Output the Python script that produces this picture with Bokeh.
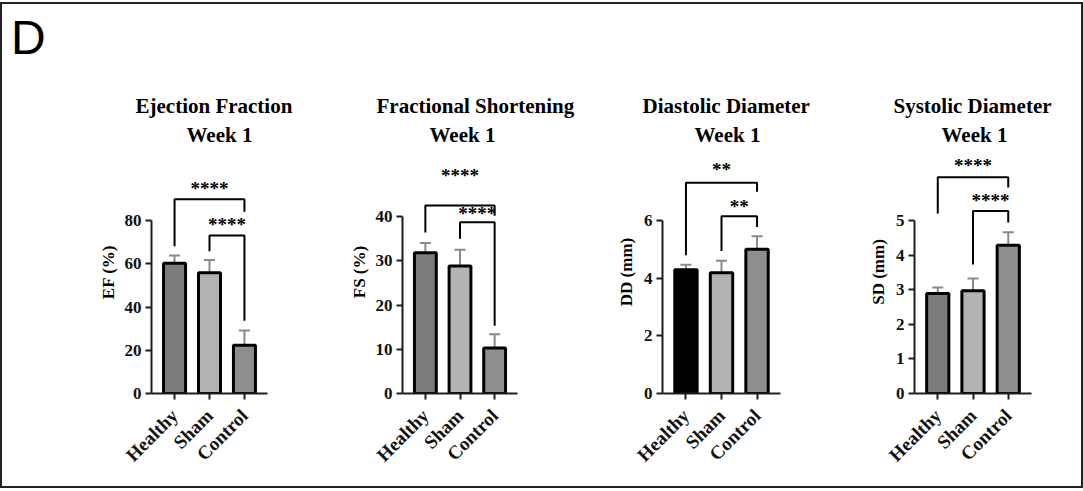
import math
from bokeh.plotting import figure
from bokeh.models import (ColumnDataSource, FactorRange, Range1d, FixedTicker,
                          Title, Whisker, TeeHead, Row, Column, Div)
from bokeh.core.properties import value
from bokeh.embed import file_html
from bokeh.resources import INLINE

groups = ["Healthy", "Sham", "Control"]

panel_letter = "D"

# Panel 1: Ejection Fraction
ef_title = "Ejection Fraction"
ef_sub = "Week 1"
ef_mean = [60.3, 55.9, 22.3]
ef_err = [3.5, 5.8, 6.8]
ef_ticks = [0, 20, 40, 60, 80]
ef_ylabel = "EF (%)"
ef_colors = ["#7c7c7c", "#b3b3b3", "#8e8e8e"]
# significance: (left group, right group, bracket top, left leg end, right leg end, stars, stars y)
ef_sig = [("Healthy", "Control", 89.8, 68.1, 84.1, "****", 94.9),
          ("Sham", "Control", 73.1, 65.8, 33.6, "****", 78.3)]

# Panel 2: Fractional Shortening
fs_title = "Fractional Shortening"
fs_sub = "Week 1"
fs_mean = [31.8, 28.8, 10.3]
fs_err = [2.2, 3.7, 3.1]
fs_ticks = [0, 10, 20, 30, 40]
fs_ylabel = "FS (%)"
fs_colors = ["#7c7c7c", "#b3b3b3", "#8e8e8e"]
fs_sig = [("Healthy", "Control", 42.5, 36.4, 40.2, "****", 49.3),
          ("Sham", "Control", 38.7, 35.0, 15.3, "****", 40.7)]

# Panel 3: Diastolic Diameter
dd_title = "Diastolic Diameter"
dd_sub = "Week 1"
dd_mean = [4.29, 4.18, 5.00]
dd_err = [0.17, 0.42, 0.45]
dd_ticks = [0, 2, 4, 6]
dd_ylabel = "DD (mm)"
dd_colors = ["#000000", "#b3b3b3", "#8e8e8e"]
dd_sig = [("Healthy", "Control", 7.30, 4.79, 6.99, "**", 7.76),
          ("Sham", "Control", 6.14, 4.94, 5.77, "**", 6.48)]

# Panel 4: Systolic Diameter
sd_title = "Systolic Diameter"
sd_sub = "Week 1"
sd_mean = [2.89, 2.97, 4.28]
sd_err = [0.17, 0.35, 0.38]
sd_ticks = [0, 1, 2, 3, 4, 5]
sd_ylabel = "SD (mm)"
sd_colors = ["#7c7c7c", "#b3b3b3", "#8e8e8e"]
sd_sig = [("Healthy", "Control", 6.25, 5.20, 5.95, "****", 6.58),
          ("Sham", "Control", 5.27, 3.73, 4.94, "****", 5.58)]

SERIF = "Liberation Serif"
AXIS_COLOR = "#1e1e1e"
ERR_COLOR = "#8a8a8a"

panels = [
    dict(title=ef_title, sub=ef_sub, mean=ef_mean, err=ef_err, ticks=ef_ticks, ylabel=ef_ylabel,
         colors=ef_colors, sig=ef_sig, width=330, bl=149, br=65, bb=91, ymax=112.4,
         toff=-16, soff=35, lstand=4),
    dict(title=fs_title, sub=fs_sub, mean=fs_mean, err=fs_err, ticks=fs_ticks, ylabel=fs_ylabel,
         colors=fs_colors, sig=fs_sig, width=260, bl=70, br=75, bb=93, ymax=54.94,
         toff=-26, soff=27, lstand=4),
    dict(title=dd_title, sub=dd_sub, mean=dd_mean, err=dd_err, ticks=dd_ticks, ylabel=dd_ylabel,
         colors=dd_colors, sig=dd_sig, width=258, bl=70, br=70, bb=90, ymax=8.42,
         toff=-20, soff=32, lstand=5),
    dict(title=sd_title, sub=sd_sub, mean=sd_mean, err=sd_err, ticks=sd_ticks, ylabel=sd_ylabel,
         colors=sd_colors, sig=sd_sig, width=231, bl=64, br=50, bb=90, ymax=7.02,
         toff=-21, soff=27, lstand=5),
]

HEAD = 60
H = 482 - HEAD
TOP = 146 - HEAD


def pos(factor):
    # synthetic coordinate of a factor on the categorical range
    return groups.index(factor) + 0.5


figs = []
for i, pc in enumerate(panels):
    p = figure(width=pc["width"], height=H, output_backend="svg", toolbar_location=None,
               x_range=FactorRange(factors=groups, range_padding=0.16, range_padding_units="absolute"),
               y_range=Range1d(0, pc["ymax"]), title=None,
               min_border_left=pc["bl"], min_border_right=pc["br"],
               min_border_top=TOP, min_border_bottom=pc["bb"])
    p.outline_line_color = None
    p.background_fill_color = "white"
    p.border_fill_color = "white"
    p.xgrid.visible = False
    p.ygrid.visible = False

    p.add_layout(Title(text=pc["sub"], align="left", text_font=SERIF, text_font_style="bold",
                       text_font_size="21px", text_color="black", standoff=7, offset=pc["soff"]), "above")
    p.add_layout(Title(text=pc["title"], align="left", text_font=SERIF, text_font_style="bold",
                       text_font_size="21px", text_color="black", standoff=0, offset=pc["toff"]), "above")

    upper = [m + e for m, e in zip(pc["mean"], pc["err"])]
    src = ColumnDataSource(dict(x=groups, top=pc["mean"], upper=upper, color=pc["colors"]))

    w = Whisker(base="x", lower="top", upper="upper", source=src, line_color=ERR_COLOR, line_width=2,
                upper_head=TeeHead(size=11, line_color=ERR_COLOR, line_width=2), lower_head=None,
                level="underlay")
    p.add_layout(w)
    p.vbar(x="x", top="top", bottom=0, width=0.63, source=src, fill_color="color",
           line_color="black", line_width=3)

    xs, ys, tx, ty, tt = [], [], [], [], []
    for a, b, top, la, lb, stars, sy in pc["sig"]:
        ia = pos(a)
        ib = pos(b)
        xs.append([ia, ia, ib, ib])
        ys.append([la, top, top, lb])
        tx.append((ia + ib) / 2)
        ty.append(sy)
        tt.append(stars)
    p.multi_line(xs=xs, ys=ys, line_color="black", line_width=2)
    p.text(x=tx, y=ty, text=tt, text_font=value(SERIF), text_font_style="bold",
           text_font_size="19px", text_align="center", text_baseline="middle", text_color="black")

    ya = p.yaxis[0]
    ya.bounds = (0, pc["ticks"][-1])
    ya.ticker = FixedTicker(ticks=pc["ticks"])
    ya.axis_label = pc["ylabel"]
    ya.axis_label_text_font = SERIF
    ya.axis_label_text_font_style = "bold"
    ya.axis_label_text_font_size = "17px"
    ya.axis_label_text_color = "black"
    ya.axis_label_standoff = pc["lstand"]
    xa = p.xaxis[0]
    for ax in (ya, xa):
        ax.axis_line_color = AXIS_COLOR
        ax.axis_line_width = 2
        ax.major_tick_line_color = AXIS_COLOR
        ax.major_tick_line_width = 2
        ax.major_tick_out = 6
        ax.major_tick_in = 0
        ax.minor_tick_line_color = None
        ax.major_label_text_font = SERIF
        ax.major_label_text_font_style = "bold"
        ax.major_label_text_color = "#111111"
    ya.major_label_text_font_size = "17px"
    ya.major_label_standoff = 4
    xa.major_label_text_font_size = "19px"
    xa.major_label_orientation = math.pi / 4
    xa.major_label_standoff = 13
    figs.append(p)

letter = Div(text=('<div style="font-family: \'Liberation Sans\'; font-size: 48px; line-height: 1.1; '
                   'color: black; margin: 0; padding: 8px 0 0 9px;">'
                   + panel_letter + '</div>'),
             width=sum(pc["width"] for pc in panels), height=HEAD,
             styles={"margin": "0", "padding": "0"})

layout = Column(children=[letter, Row(children=figs)],
                styles={"border": "2px solid #222", "margin-top": "2px", "background": "white"})

open("out.html", "w").write(file_html(layout, INLINE))
